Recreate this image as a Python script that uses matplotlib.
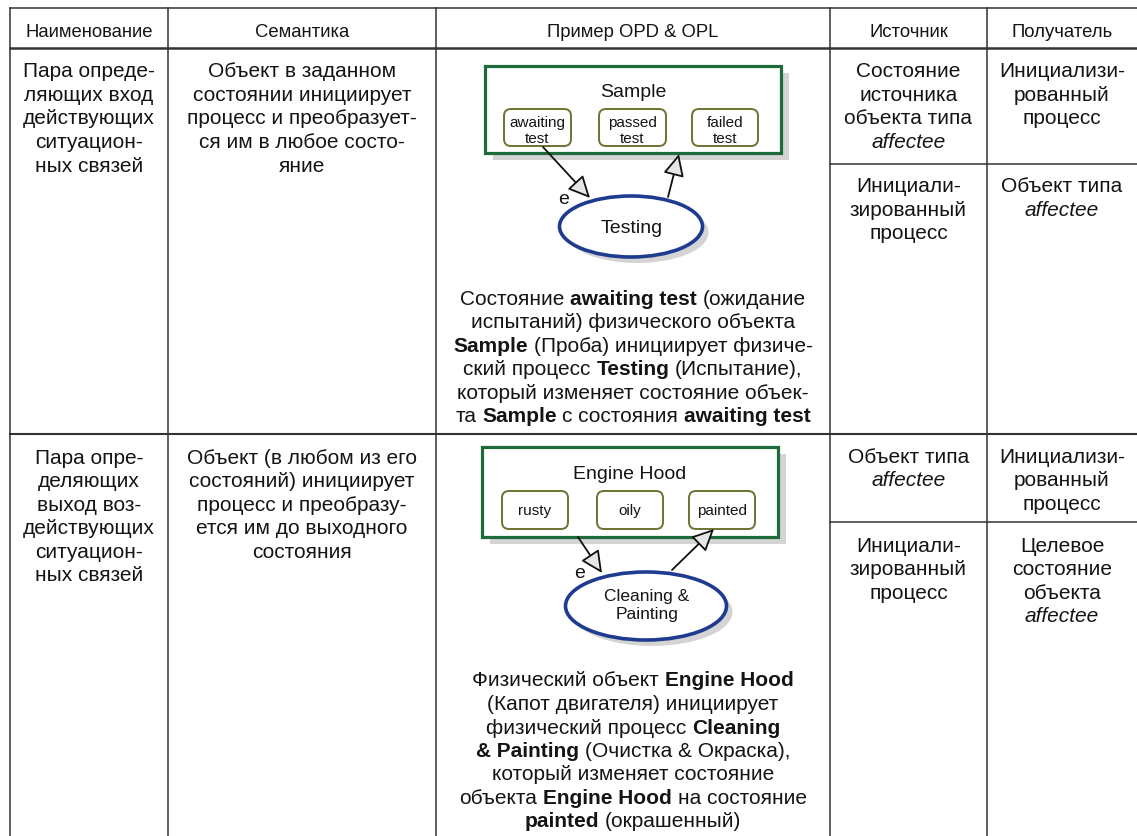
import re
import matplotlib
matplotlib.use("Agg")
import matplotlib.pyplot as plt
from matplotlib.patches import Rectangle, FancyBboxPatch, Ellipse, FancyArrowPatch

plt.rcParams['font.family'] = ['Liberation Sans', 'DejaVu Sans']

# ---------------- data (texts) ----------------
headers = ["Наименование", "Семантика", "Пример OPD & OPL", "Источник", "Получатель"]

names = [
    ["Пара опреде-", "ляющих вход", "действующих", "ситуацион-", "ных связей"],
    ["Пара опре-", "деляющих", "выход воз-", "действующих", "ситуацион-", "ных связей"],
]
semantics = [
    ["Объект в заданном", "состоянии инициирует", "процесс и преобразует-",
     "ся им в любое состо-", "яние"],
    ["Объект (в любом из его", "состояний) инициирует", "процесс и преобразу-",
     "ется им до выходного", "состояния"],
]
opl = [
    ["Состояние **awaiting test** (ожидание",
     "испытаний) физического объекта",
     "**Sample** (Проба) инициирует физиче-",
     "ский процесс **Testing** (Испытание),",
     "который изменяет состояние объек-",
     "та **Sample** с состояния **awaiting test**"],
    ["Физический объект **Engine Hood**",
     "(Капот двигателя) инициирует",
     "физический процесс **Cleaning**",
     "**& Painting** (Очистка & Окраска),",
     "который изменяет состояние",
     "объекта **Engine Hood** на состояние",
     "**painted** (окрашенный)"],
]
sources = [
    [["Состояние", "источника", "объекта типа", "_affectee_"],
     ["Инициали-", "зированный", "процесс"]],
    [["Объект типа", "_affectee_"],
     ["Инициали-", "зированный", "процесс"]],
]
targets = [
    [["Инициализи-", "рованный", "процесс"],
     ["Объект типа", "_affectee_"]],
    [["Инициализи-", "рованный", "процесс"],
     ["Целевое", "состояние", "объекта", "_affectee_"]],
]
objects = ["Sample", "Engine Hood"]
states = [["awaiting\ntest", "passed\ntest", "failed\ntest"],
          ["rusty", "oily", "painted"]]
processes = ["Testing", "Cleaning &\nPainting"]

# ---------------- layout ----------------
W, H = 1137, 837
fig = plt.figure(figsize=(W / 100, H / 100), dpi=100)
ax = fig.add_axes([0, 0, 1, 1])
ax.set_xlim(0, W)
ax.set_ylim(H, 0)
ax.axis('off')
renderer = fig.canvas.get_renderer()

col_edges = [10, 168, 436, 830, 987, 1137]
col_cx = [(col_edges[i] + col_edges[i + 1]) / 2 for i in range(5)]
col_cx[2] = 633
LC = '#333333'

# table lines
ax.plot([10, W], [9, 9], color=LC, lw=1.1)
ax.plot([10, W], [48.5, 48.5], color=LC, lw=1.8)
ax.plot([10, W], [435, 435], color=LC, lw=1.5)
for yy in (165, 523):
    ax.plot([830, W], [yy, yy], color=LC, lw=1.1)
for xx in col_edges[:-1]:
    ax.plot([xx, xx], [9, H], color=LC, lw=1.1)

BODY = 15
TXT = '#141414'


def parse(line):
    parts = re.split(r'(\*\*.+?\*\*|_.+?_)', line)
    runs = []
    for p in parts:
        if not p:
            continue
        if p.startswith('**') and p.endswith('**'):
            runs.append((p[2:-2], 'bold', 'normal'))
        elif p.startswith('_') and p.endswith('_') and len(p) > 1:
            runs.append((p[1:-1], 'normal', 'italic'))
        else:
            runs.append((p, 'normal', 'normal'))
    return runs


def width_of(s, size, weight='normal', style='normal'):
    t1 = ax.text(0, 0, '|' + s + '|', fontsize=size, fontweight=weight, fontstyle=style)
    t2 = ax.text(0, 0, '||', fontsize=size, fontweight=weight, fontstyle=style)
    w = t1.get_window_extent(renderer).width - t2.get_window_extent(renderer).width
    t1.remove()
    t2.remove()
    return w


def rich_line(cx, y, line, size=BODY):
    runs = parse(line)
    sp = width_of(' ', size)
    items = []
    x = 0.0
    for txt, wgt, sty in runs:
        lead = len(txt) - len(txt.lstrip(' '))
        trail = len(txt) - len(txt.rstrip(' '))
        core = txt.strip(' ')
        x += lead * sp
        t = ax.text(0, y, core, fontsize=size, fontweight=wgt, fontstyle=sty,
                    ha='left', va='baseline', color=TXT)
        w = t.get_window_extent(renderer).width
        items.append((t, x))
        x += w + trail * sp
    x0 = cx - x / 2
    for t, off in items:
        t.set_x(x0 + off)


def block(cx, y0, lines, step, size=BODY):
    for i, ln in enumerate(lines):
        rich_line(cx, y0 + i * step, ln, size)


# header
for i, h in enumerate(headers):
    ax.text(col_cx[i], 37, h, fontsize=13.3, ha='center', va='baseline', color=TXT)

# row 1
block(col_cx[0], 77, names[0], 23.7)
block(col_cx[1], 77, semantics[0], 23.7)
block(col_cx[2], 305, opl[0], 23.4)
block(col_cx[3], 77, sources[0][0], 23.7)
block(col_cx[3], 192, sources[0][1], 23.5)
block(col_cx[4], 77, targets[0][0], 23.7)
block(col_cx[4], 192, targets[0][1], 23.5)

# row 2
block(col_cx[0], 464, names[1], 23.4)
block(col_cx[1], 464, semantics[1], 23.4)
block(col_cx[2], 686.5, opl[1], 23.5)
block(col_cx[3], 463, sources[1][0], 23.5)
block(col_cx[3], 552, sources[1][1], 23.3)
block(col_cx[4], 463, targets[1][0], 23.5)
block(col_cx[4], 552, targets[1][1], 23.3)

# ---------------- diagrams ----------------
GREEN = '#1d6a3a'
OLIVE = '#6e7232'
BLUE = '#1f3b8f'
SHADOW = '#d4d4d4'

diagrams = [
    dict(rect=(485, 67, 296, 87), title_y=97,
         boxes=[(504, 110, 67, 37), (599, 110, 67, 37), (692, 110, 66, 37)],
         state_y=(126.5, 142.5), ell=(631, 227.5, 143, 61), proc_y=[232.5],
         proc_size=14, arrows=[((543, 148), (590, 199)), ((668, 198), (679, 155))],
         e=(564, 204)),
    dict(rect=(482, 448, 296, 90), title_y=479,
         boxes=[(502, 492, 66, 38), (597, 492, 66, 38), (689, 492, 66, 38)],
         state_y=(515,), ell=(646, 607, 161, 68), proc_y=[600.5, 619.5],
         proc_size=12.5, arrows=[((578, 538), (602, 574)), ((672, 571), (714, 530))],
         e=(580, 578.5)),
]

for k, d in enumerate(diagrams):
    x, y, w, h = d['rect']
    ax.add_patch(Rectangle((x + 8, y + 7), w, h, facecolor=SHADOW, edgecolor='none', zorder=2))
    ax.add_patch(Rectangle((x, y), w, h, facecolor='white', edgecolor=GREEN, lw=2.3, zorder=3))
    ax.text(x + w / 2, d['title_y'], objects[k], fontsize=14, ha='center', va='baseline',
            color=TXT, zorder=4)
    for (bx, by, bw, bh), s in zip(d['boxes'], states[k]):
        ax.add_patch(FancyBboxPatch((bx, by), bw, bh,
                                    boxstyle='round,pad=0,rounding_size=7',
                                    facecolor='white', edgecolor=OLIVE, lw=1.4, zorder=4))
        for j, part in enumerate(s.split('\n')):
            ax.text(bx + bw / 2, d['state_y'][j], part, fontsize=11, ha='center',
                    va='baseline', color=TXT, zorder=5)
    ex, ey, ew, eh = d['ell']
    ax.add_patch(Ellipse((ex + 6, ey + 6), ew, eh, facecolor=SHADOW, edgecolor='none', zorder=2))
    ax.add_patch(Ellipse((ex, ey), ew, eh, facecolor='white', edgecolor=BLUE, lw=2.6, zorder=3))
    for j, part in enumerate(processes[k].split('\n')):
        ax.text(ex + 1, d['proc_y'][j], part, fontsize=d['proc_size'], ha='center',
                va='baseline', color=TXT, zorder=5)
    for (p0, p1) in d['arrows']:
        ax.add_patch(FancyArrowPatch(p0, p1, arrowstyle='-|>,head_length=1.35,head_width=0.65',
                                     mutation_scale=10, shrinkA=0, shrinkB=0,
                                     facecolor='#e6e6e6', edgecolor='#111111', lw=1.3,
                                     zorder=6))
    ax.text(d['e'][0], d['e'][1], 'e', fontsize=14, ha='center', va='baseline',
            color=TXT, zorder=6)

fig.savefig('out.png', dpi=100, facecolor='white')
